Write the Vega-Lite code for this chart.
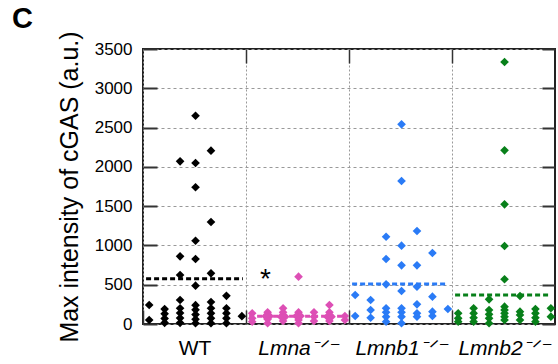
{
  "$schema": "https://vega.github.io/schema/vega-lite/v6.json",
  "width": 412,
  "height": 275,
  "autosize": {"type": "none"},
  "padding": {"left": 143, "top": 49, "right": 3, "bottom": 40},
  "background": "white",
  "config": {
    "font": "Liberation Sans",
    "view": {"stroke": "#222", "strokeWidth": 2},
    "axis": {"labelColor": "#111", "titleColor": "#111"}
  },
  "title": {"text": "C", "anchor": "start", "frame": "group", "dx": -131, "dy": 34, "baseline": "alphabetic", "offset": 8, "fontSize": 29, "fontWeight": "bold", "color": "#000"},
  "datasets": {
    "pts": [
      {"g": "WT", "x": 0.06, "y": 242}, {"g": "WT", "x": 0.06, "y": 51},
      {"g": "WT", "x": 0.21, "y": 190}, {"g": "WT", "x": 0.21, "y": 130}, {"g": "WT", "x": 0.21, "y": 70}, {"g": "WT", "x": 0.21, "y": 15},
      {"g": "WT", "x": 0.36, "y": 2070}, {"g": "WT", "x": 0.36, "y": 861}, {"g": "WT", "x": 0.36, "y": 624}, {"g": "WT", "x": 0.36, "y": 305}, {"g": "WT", "x": 0.36, "y": 200}, {"g": "WT", "x": 0.36, "y": 140}, {"g": "WT", "x": 0.36, "y": 75}, {"g": "WT", "x": 0.36, "y": 15},
      {"g": "WT", "x": 0.51, "y": 2650}, {"g": "WT", "x": 0.51, "y": 2049}, {"g": "WT", "x": 0.51, "y": 1740}, {"g": "WT", "x": 0.51, "y": 1060}, {"g": "WT", "x": 0.51, "y": 827}, {"g": "WT", "x": 0.51, "y": 488}, {"g": "WT", "x": 0.51, "y": 240}, {"g": "WT", "x": 0.51, "y": 180}, {"g": "WT", "x": 0.51, "y": 120}, {"g": "WT", "x": 0.51, "y": 60}, {"g": "WT", "x": 0.51, "y": 10},
      {"g": "WT", "x": 0.66, "y": 2206}, {"g": "WT", "x": 0.66, "y": 1298}, {"g": "WT", "x": 0.66, "y": 645}, {"g": "WT", "x": 0.66, "y": 280}, {"g": "WT", "x": 0.66, "y": 200}, {"g": "WT", "x": 0.66, "y": 136}, {"g": "WT", "x": 0.66, "y": 72}, {"g": "WT", "x": 0.66, "y": 10},
      {"g": "WT", "x": 0.81, "y": 358}, {"g": "WT", "x": 0.81, "y": 200}, {"g": "WT", "x": 0.81, "y": 136}, {"g": "WT", "x": 0.81, "y": 72}, {"g": "WT", "x": 0.81, "y": 10},
      {"g": "WT", "x": 0.96, "y": 100},

      {"g": "Lmna", "x": 1.06, "y": 136}, {"g": "Lmna", "x": 1.06, "y": 72}, {"g": "Lmna", "x": 1.06, "y": 30},
      {"g": "Lmna", "x": 1.21, "y": 150}, {"g": "Lmna", "x": 1.19, "y": 100}, {"g": "Lmna", "x": 1.23, "y": 100}, {"g": "Lmna", "x": 1.21, "y": 60}, {"g": "Lmna", "x": 1.21, "y": 10},
      {"g": "Lmna", "x": 1.36, "y": 200}, {"g": "Lmna", "x": 1.36, "y": 150}, {"g": "Lmna", "x": 1.34, "y": 93}, {"g": "Lmna", "x": 1.38, "y": 93}, {"g": "Lmna", "x": 1.36, "y": 38},
      {"g": "Lmna", "x": 1.51, "y": 602}, {"g": "Lmna", "x": 1.51, "y": 150}, {"g": "Lmna", "x": 1.49, "y": 102}, {"g": "Lmna", "x": 1.53, "y": 102}, {"g": "Lmna", "x": 1.51, "y": 51}, {"g": "Lmna", "x": 1.51, "y": 10},
      {"g": "Lmna", "x": 1.66, "y": 150}, {"g": "Lmna", "x": 1.66, "y": 93}, {"g": "Lmna", "x": 1.66, "y": 38},
      {"g": "Lmna", "x": 1.81, "y": 242}, {"g": "Lmna", "x": 1.81, "y": 150}, {"g": "Lmna", "x": 1.79, "y": 93}, {"g": "Lmna", "x": 1.83, "y": 93}, {"g": "Lmna", "x": 1.81, "y": 38},
      {"g": "Lmna", "x": 1.96, "y": 102}, {"g": "Lmna", "x": 1.96, "y": 51},

      {"g": "Lmnb1", "x": 2.06, "y": 369}, {"g": "Lmnb1", "x": 2.06, "y": 102},
      {"g": "Lmnb1", "x": 2.21, "y": 305}, {"g": "Lmnb1", "x": 2.21, "y": 178}, {"g": "Lmnb1", "x": 2.21, "y": 80},
      {"g": "Lmnb1", "x": 2.36, "y": 1111}, {"g": "Lmnb1", "x": 2.36, "y": 827}, {"g": "Lmnb1", "x": 2.36, "y": 505}, {"g": "Lmnb1", "x": 2.36, "y": 200}, {"g": "Lmnb1", "x": 2.36, "y": 150}, {"g": "Lmnb1", "x": 2.36, "y": 93}, {"g": "Lmnb1", "x": 2.36, "y": 30},
      {"g": "Lmnb1", "x": 2.51, "y": 2541}, {"g": "Lmnb1", "x": 2.51, "y": 1820}, {"g": "Lmnb1", "x": 2.51, "y": 997}, {"g": "Lmnb1", "x": 2.51, "y": 747}, {"g": "Lmnb1", "x": 2.51, "y": 420}, {"g": "Lmnb1", "x": 2.51, "y": 200}, {"g": "Lmnb1", "x": 2.51, "y": 150}, {"g": "Lmnb1", "x": 2.51, "y": 93}, {"g": "Lmnb1", "x": 2.51, "y": 10},
      {"g": "Lmnb1", "x": 2.66, "y": 1184}, {"g": "Lmnb1", "x": 2.66, "y": 747}, {"g": "Lmnb1", "x": 2.66, "y": 475}, {"g": "Lmnb1", "x": 2.66, "y": 250}, {"g": "Lmnb1", "x": 2.66, "y": 136}, {"g": "Lmnb1", "x": 2.66, "y": 93},
      {"g": "Lmnb1", "x": 2.81, "y": 904}, {"g": "Lmnb1", "x": 2.81, "y": 348}, {"g": "Lmnb1", "x": 2.81, "y": 157}, {"g": "Lmnb1", "x": 2.81, "y": 102},
      {"g": "Lmnb1", "x": 2.96, "y": 191},

      {"g": "Lmnb2", "x": 3.06, "y": 136}, {"g": "Lmnb2", "x": 3.06, "y": 72}, {"g": "Lmnb2", "x": 3.06, "y": 30},
      {"g": "Lmnb2", "x": 3.21, "y": 200}, {"g": "Lmnb2", "x": 3.21, "y": 136}, {"g": "Lmnb2", "x": 3.21, "y": 80}, {"g": "Lmnb2", "x": 3.21, "y": 30},
      {"g": "Lmnb2", "x": 3.36, "y": 314}, {"g": "Lmnb2", "x": 3.36, "y": 178}, {"g": "Lmnb2", "x": 3.36, "y": 123}, {"g": "Lmnb2", "x": 3.36, "y": 72}, {"g": "Lmnb2", "x": 3.36, "y": 10},
      {"g": "Lmnb2", "x": 3.51, "y": 3335}, {"g": "Lmnb2", "x": 3.51, "y": 2210}, {"g": "Lmnb2", "x": 3.51, "y": 1523}, {"g": "Lmnb2", "x": 3.51, "y": 993}, {"g": "Lmnb2", "x": 3.51, "y": 569}, {"g": "Lmnb2", "x": 3.51, "y": 221}, {"g": "Lmnb2", "x": 3.51, "y": 178}, {"g": "Lmnb2", "x": 3.51, "y": 136}, {"g": "Lmnb2", "x": 3.51, "y": 93}, {"g": "Lmnb2", "x": 3.51, "y": 51},
      {"g": "Lmnb2", "x": 3.66, "y": 356}, {"g": "Lmnb2", "x": 3.66, "y": 157}, {"g": "Lmnb2", "x": 3.66, "y": 115}, {"g": "Lmnb2", "x": 3.66, "y": 51},
      {"g": "Lmnb2", "x": 3.81, "y": 191}, {"g": "Lmnb2", "x": 3.81, "y": 136}, {"g": "Lmnb2", "x": 3.81, "y": 80}, {"g": "Lmnb2", "x": 3.81, "y": 30},
      {"g": "Lmnb2", "x": 3.96, "y": 200}, {"g": "Lmnb2", "x": 3.96, "y": 93}
    ],
    "means": [
      {"g": "WT", "x1": 0.03, "x2": 0.97, "y": 575},
      {"g": "Lmna", "x1": 1.03, "x2": 1.97, "y": 100},
      {"g": "Lmnb1", "x1": 2.03, "x2": 2.95, "y": 510},
      {"g": "Lmnb2", "x1": 3.03, "x2": 3.95, "y": 370}
    ],
    "marks": [
      {"x": 1.19, "y": 460, "t": "*"}
    ]
  },
  "layer": [
    {
      "data": {"name": "pts"},
      "mark": {"type": "point", "shape": "diamond", "filled": true, "opacity": 1, "size": 75},
      "encoding": {
        "x": {
          "field": "x", "type": "quantitative",
          "scale": {"domain": [0, 4], "nice": false, "zero": false},
          "axis": {
            "orient": "bottom", "values": [0, 1, 2, 3], "title": null, "domain": false,
            "tickSize": -14, "tickWidth": 1.5, "tickColor": "#333",
            "grid": true, "gridDash": [2, 2], "gridColor": "#999", "gridWidth": 1,
            "labelOffset": 51.5, "labelPadding": 27, "labelFontSize": 21, "labelColor": "#000",
            "labelAlign": "center",
            "labelExpr": "datum.value == 0 ? 'WT' : datum.value == 1 ? 'Lmna⁻ᐟ⁻' : datum.value == 2 ? 'Lmnb1⁻ᐟ⁻' : 'Lmnb2⁻ᐟ⁻'",
            "labelFontStyle": {"condition": {"test": "datum.value >= 1", "value": "italic"}, "value": "normal"}
          }
        },
        "y": {
          "field": "y", "type": "quantitative",
          "scale": {"domain": [0, 3500], "nice": false},
          "axis": {
            "orient": "left", "values": [0, 500, 1000, 1500, 2000, 2500, 3000, 3500], "format": "d",
            "domain": false, "tickSize": -14, "tickWidth": 2, "tickColor": "#333",
            "grid": true, "gridDash": [3, 3], "gridColor": "#999", "gridWidth": 1,
            "labelFontSize": 17, "labelPadding": 25, "labelColor": "#000",
            "title": "Max intensity of cGAS (a.u.)", "titleFontSize": 25, "titleFontWeight": "normal", "titlePadding": 12, "titleColor": "#000"
          }
        },
        "color": {
          "field": "g", "type": "nominal",
          "scale": {"domain": ["WT", "Lmna", "Lmnb1", "Lmnb2"], "range": ["#000000", "#dd4fb5", "#2a7bf6", "#08801a"]},
          "legend": null
        }
      }
    },
    {
      "data": {"name": "means"},
      "mark": {"type": "rule", "strokeWidth": 3, "strokeDash": [5, 3]},
      "encoding": {
        "x": {
          "field": "x1", "type": "quantitative",
          "axis": {"orient": "top", "values": [1, 2, 3], "labels": false, "grid": false, "domain": false, "tickSize": -14, "tickWidth": 1.5, "tickColor": "#333", "title": null}
        },
        "x2": {"field": "x2"},
        "y": {
          "field": "y", "type": "quantitative",
          "axis": {"orient": "right", "values": [0, 500, 1000, 1500, 2000, 2500, 3000, 3500], "labels": false, "grid": false, "domain": false, "tickSize": -13, "tickWidth": 2, "tickColor": "#333", "title": null}
        },
        "color": {"field": "g", "type": "nominal", "legend": null}
      }
    },
    {
      "data": {"name": "marks"},
      "mark": {"type": "text", "fontSize": 28, "baseline": "alphabetic", "align": "center", "color": "#000"},
      "encoding": {
        "x": {"field": "x", "type": "quantitative", "axis": null},
        "y": {"field": "y", "type": "quantitative", "axis": null},
        "text": {"field": "t"}
      }
    }
  ],
  "resolve": {"axis": {"x": "independent", "y": "independent"}}
}
